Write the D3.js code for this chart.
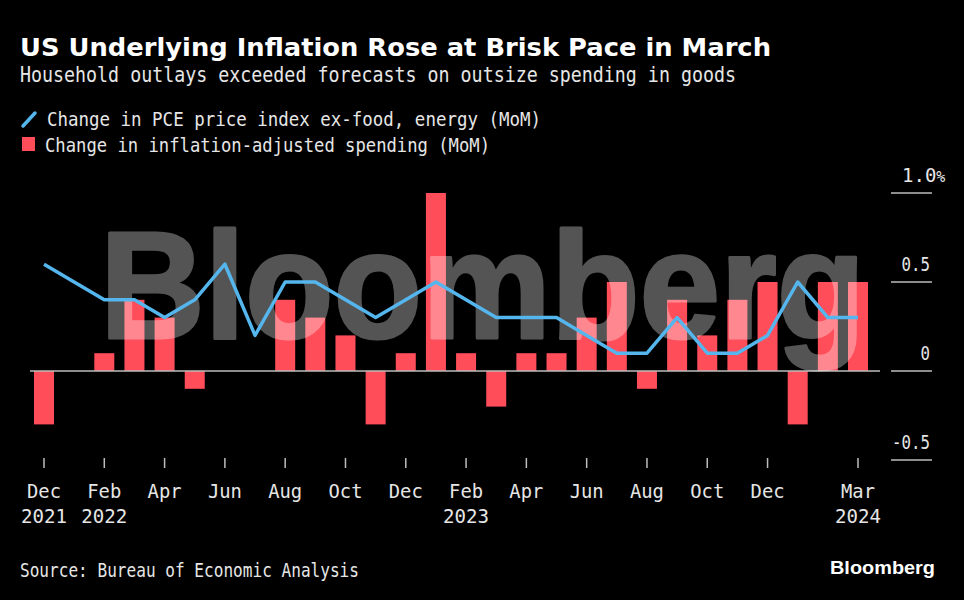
<!DOCTYPE html>
<html><head><meta charset="utf-8">
<script src="https://cdn.jsdelivr.net/npm/d3@7"></script>
<style>body{margin:0;background:#000}svg{display:block}</style>
</head><body><svg id="c" width="964" height="600"></svg>
<script>
const months = ["Dec 2021","Jan 2022","Feb 2022","Mar 2022","Apr 2022","May 2022","Jun 2022","Jul 2022","Aug 2022","Sep 2022","Oct 2022","Nov 2022","Dec 2022","Jan 2023","Feb 2023","Mar 2023","Apr 2023","May 2023","Jun 2023","Jul 2023","Aug 2023","Sep 2023","Oct 2023","Nov 2023","Dec 2023","Jan 2024","Feb 2024","Mar 2024"];
const corePCE = [0.6,0.5,0.4,0.4,0.3,0.4,0.6,0.2,0.5,0.5,0.4,0.3,0.4,0.5,0.4,0.3,0.3,0.3,0.2,0.1,0.1,0.3,0.1,0.1,0.2,0.5,0.3,0.3];
const realSpending = [-0.3,0,0.1,0.4,0.3,-0.1,0,0,0.4,0.3,0.2,-0.3,0.1,1.0,0.1,-0.2,0.1,0.1,0.3,0.5,-0.1,0.4,0.2,0.4,0.5,-0.3,0.5,0.5];
const xTicks = [["Dec 2021","Dec","2021"],["Feb 2022","Feb","2022"],["Apr 2022","Apr",""],["Jun 2022","Jun",""],["Aug 2022","Aug",""],["Oct 2022","Oct",""],["Dec 2022","Dec",""],["Feb 2023","Feb","2023"],["Apr 2023","Apr",""],["Jun 2023","Jun",""],["Aug 2023","Aug",""],["Oct 2023","Oct",""],["Dec 2023","Dec",""],["Mar 2024","Mar","2024"]];
const yTicks = [1.0,0.5,0,-0.5];
const yTickLabels = ["1.0","0.5","0","-0.5"];

const svg = d3.select("#c");
svg.append("rect").attr("width",964).attr("height",600).attr("fill","#000");
const MONO = "'DejaVu Sans Mono', 'Liberation Mono', monospace";
const SANS = "'DejaVu Sans', 'Liberation Sans', sans-serif";

function txt(x,y,s,opts){
  const t = svg.append("text").attr("x",x).attr("y",y).text(s)
    .attr("font-family",opts.family||MONO).attr("font-size",opts.size)
    .attr("font-weight",opts.weight||"normal").attr("fill",opts.fill||"#e6e6e6")
    .attr("text-anchor",opts.anchor||"start");
  if(opts.len) t.attr("textLength",opts.len).attr("lengthAdjust","spacingAndGlyphs");
  return t;
}

const x = d3.scalePoint().domain(months).range([44,858]);
const y = d3.scaleLinear().domain([-0.5,1.0]).range([460,193]);

// titles
txt(20,56,"US Underlying Inflation Rose at Brisk Pace in March",{family:SANS,size:25,weight:"bold",fill:"#fff",len:751});
txt(20,82,"Household outlays exceeded forecasts on outsize spending in goods",{size:21,len:716});
// legend
svg.append("line").attr("x1",23).attr("y1",126).attr("x2",35).attr("y2",113).attr("stroke","#55b6ee").attr("stroke-width",3.5).attr("stroke-linecap","round");
txt(47,126,"Change in PCE price index ex-food, energy (MoM)",{size:20,len:494});
svg.append("rect").attr("x",22).attr("y",137).attr("width",13).attr("height",14).attr("fill","#ff4d5a");
txt(45,152,"Change in inflation-adjusted spending (MoM)",{size:20,len:445});

// y axis ticks
yTicks.forEach((v,i)=>{
  svg.append("line").attr("x1",891).attr("x2",932).attr("y1",y(v)).attr("y2",y(v)).attr("stroke","#bdbdbd").attr("stroke-width",1.5);
  const lab = yTickLabels[i];
  if(i===0){
    const t = svg.append("text").attr("x",902).attr("y",y(v)-11)
      .attr("font-family",MONO).attr("fill","#e6e6e6");
    t.append("tspan").attr("font-size",19).text(lab);
    t.append("tspan").attr("font-size",15).text("%");
  } else {
    txt(930,y(v)-11,lab,{size:19,anchor:"end",len:lab.length*9.5});
  }
});

// bars
const bw = 20;
svg.append("g").selectAll("rect").data(months).join("rect")
  .attr("x",d=>x(d)-bw/2).attr("width",bw)
  .attr("y",(d,i)=>y(Math.max(0,realSpending[i])))
  .attr("height",(d,i)=>Math.abs(y(realSpending[i])-y(0)))
  .attr("fill","#ff4d5a");

// zero line
svg.append("line").attr("x1",30).attr("x2",880).attr("y1",y(0)).attr("y2",y(0)).attr("stroke","#bdbdbd").attr("stroke-width",1.5);

// watermark
svg.append("g").attr("opacity",0.33)
  .attr("transform","translate(100,338) scale(1,1.05)")
  .append("text").attr("x",0).attr("y",0).text("Bloomberg")
  .attr("font-family","'Liberation Sans', Arial, sans-serif").attr("font-weight","bold")
  .attr("font-size",145).attr("fill","#fff").attr("stroke","#fff").attr("stroke-width",3).attr("stroke-linejoin","round");

// line
svg.append("path").datum(corePCE)
  .attr("d",d3.line().x((d,i)=>x(months[i])).y(d=>y(d)))
  .attr("fill","none").attr("stroke","#55b6ee").attr("stroke-width",3.5).attr("stroke-linejoin","round");

// x ticks
xTicks.forEach(t=>{
  const xx = x(t[0]);
  svg.append("line").attr("x1",xx).attr("x2",xx).attr("y1",458).attr("y2",468).attr("stroke","#bdbdbd").attr("stroke-width",1.5);
  txt(xx,498,t[1],{size:20,anchor:"middle",len:34});
  if(t[2]) txt(xx,523,t[2],{size:20,anchor:"middle",len:46});
});

// footer
txt(20,577,"Source: Bureau of Economic Analysis",{size:19,len:339});
svg.append("text").attr("x",935).attr("y",574).text("Bloomberg")
  .attr("font-family","'Liberation Sans', Arial, sans-serif").attr("font-weight","bold")
  .attr("font-size",19).attr("fill","#fff").attr("text-anchor","end")
  .attr("textLength",105).attr("lengthAdjust","spacingAndGlyphs");
</script></body></html>
